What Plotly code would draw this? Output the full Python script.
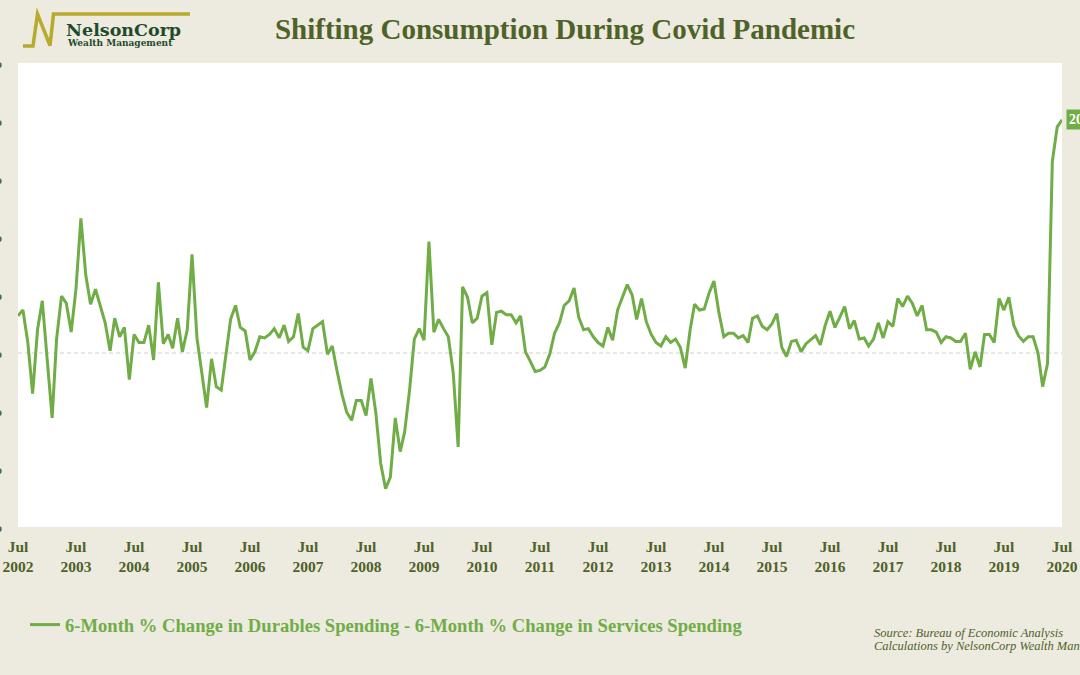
import pandas as pd
import plotly.graph_objects as go

# ---------------- data ----------------
start_month = "2002-07-01"
spread_values = [
    3.2, 3.7, 0.9, -3.5, 2.0, 4.5, -0.6, -5.6, 1.2, 4.9,
    4.3, 1.8, 5.5, 11.6, 6.7, 4.2, 5.5, 4.1, 2.6, 0.2,
    3.0, 1.4, 2.2, -2.3, 1.6, 0.9, 0.9, 2.4, -0.6, 6.1,
    0.8, 1.6, 0.4, 3.0, 0.1, 2.0, 8.5, 1.3, -1.7, -4.7,
    -0.5, -2.9, -3.2, -0.2, 2.9, 4.1, 2.2, 1.9, -0.6, 0.1,
    1.4, 1.3, 1.6, 2.1, 1.3, 2.4, 1.0, 1.4, 3.4, 0.5,
    0.2, 2.1, 2.4, 2.7, -0.1, 0.6, -1.6, -3.6, -5.1, -5.8,
    -4.1, -4.1, -5.4, -2.2, -5.2, -9.5, -11.7, -10.7, -5.6, -8.5,
    -6.8, -3.2, 1.2, 2.1, 1.1, 9.6, 1.8, 2.9, 2.1, 1.4,
    -1.7, -8.1, 5.7, 4.8, 2.6, 3.0, 4.9, 5.2, 0.7, 3.5,
    3.6, 3.3, 3.3, 2.6, 3.2, 0.1, -0.7, -1.6, -1.5, -1.2,
    -0.1, 1.7, 2.6, 4.1, 4.5, 5.6, 3.1, 2.0, 2.1, 1.4,
    0.9, 0.6, 2.2, 1.1, 3.7, 4.8, 5.9, 5.0, 2.9, 4.7,
    2.7, 1.6, 0.9, 0.6, 1.4, 0.9, 1.2, 0.5, -1.3, 2.0,
    4.2, 3.7, 3.8, 5.2, 6.2, 3.5, 1.4, 1.7, 1.7, 1.3,
    1.5, 0.9, 3.0, 3.2, 2.3, 2.0, 2.5, 3.4, 0.5, -0.3,
    1.0, 1.1, 0.1, 0.8, 1.1, 1.5, 0.7, 2.4, 3.6, 2.2,
    3.1, 4.0, 2.1, 2.8, 1.2, 1.3, 0.6, 1.2, 2.6, 1.3,
    2.7, 2.3, 4.7, 4.0, 4.9, 4.3, 3.2, 4.1, 2.0, 2.0,
    1.8, 0.9, 1.4, 1.3, 1.0, 1.0, 1.7, -1.4, 0.1, -1.2,
    1.6, 1.6, 0.9, 4.7, 3.7, 4.8, 2.4, 1.5, 1.0, 1.4,
    1.4, 0.0, -2.9, -0.9, 16.5, 19.5, 20.1,
]
months = pd.date_range(start_month, periods=len(spread_values), freq="MS")

tick_years = list(range(2002, 2021))
tick_dates = [f"{y}-07-01" for y in tick_years]
tick_labels = [f"Jul<br>{y}" for y in tick_years]

y_tick_vals = [-15, -10, -5, 0, 5, 10, 15, 20, 25]
y_tick_text = [f"{v}%" for v in y_tick_vals]

series_name = "6-Month % Change in Durables Spending - 6-Month % Change in Services Spending"
title_text = "Shifting Consumption During Covid Pandemic"

# ---------------- style ----------------
BG = "#EDEBE0"
GREEN = "#70AD47"
OLIVE = "#4F6228"
GOLD = "#B7AA2E"
LOGO_GREEN = "#1F4A2B"
SERIF = "Liberation Serif, Times New Roman, serif"

W, H = 1080, 675
PL, PR, PT, PB = 18, 1062, 63, 527


def px(x):
    return (x - PL) / (PR - PL)


def py(y):
    return (PB - y) / (PB - PT)


fig = go.Figure()
fig.add_trace(go.Scatter(
    x=months, y=spread_values, mode="lines", name=series_name,
    line=dict(color=GREEN, width=3), showlegend=True,
))

fig.update_layout(
    width=W, height=H,
    paper_bgcolor=BG, plot_bgcolor="white",
    margin=dict(l=PL, r=W - PR, t=PT, b=H - PB, autoexpand=False),
    title=dict(text=title_text, x=565 / W, xanchor="center", xref="container",
               y=1 - 29 / H, yanchor="middle", yref="container",
               font=dict(family=SERIF, size=29, color=OLIVE, weight="bold")),
    showlegend=True,
    legend=dict(orientation="h", x=px(25), xanchor="left", y=py(625), yanchor="middle",
                bgcolor="rgba(0,0,0,0)",
                font=dict(family=SERIF, size=18.6, color=GREEN, weight="bold")),
    xaxis=dict(
        type="date", range=[months[0], months[-1]],
        tickvals=tick_dates, ticktext=tick_labels,
        showgrid=False, zeroline=False, showline=False, ticks="",
        automargin=False, ticklabelstandoff=8,
        tickfont=dict(family=SERIF, size=15.5, color=OLIVE, weight="bold"),
    ),
    yaxis=dict(
        range=[-15, 25], tickvals=y_tick_vals, ticktext=y_tick_text,
        showgrid=False, zeroline=False, showline=False, ticks="",
        automargin=False, ticklabelstandoff=14,
        tickfont=dict(family=SERIF, size=15.5, color=OLIVE, weight="bold"),
    ),
)

# dashed zero line
fig.add_shape(type="line", xref="paper", yref="y", x0=0, x1=1, y0=0, y1=0,
              line=dict(color="#CFCFCF", width=1, dash="4px,3px"), layer="below")

# end value label
fig.add_annotation(
    x=months[-1], y=spread_values[-1], xref="x", yref="y",
    text=f"<b>{spread_values[-1]:.1f}%</b>", showarrow=False,
    xanchor="left", yanchor="middle", xshift=4,
    bgcolor=GREEN, borderpad=2,
    font=dict(family=SERIF, size=14, color="white"),
)

# source text
fig.add_annotation(x=px(872), y=py(633), xref="paper", yref="paper",
                   text="Source: Bureau of Economic Analysis", showarrow=False,
                   xanchor="left", yanchor="middle",
                   font=dict(family=SERIF, size=12.5, color=OLIVE, style="italic"))
fig.add_annotation(x=px(872), y=py(646), xref="paper", yref="paper",
                   text="Calculations by NelsonCorp Wealth Management", showarrow=False,
                   xanchor="left", yanchor="middle",
                   font=dict(family=SERIF, size=12.5, color=OLIVE, style="italic"))

# logo
logo_pts = [(23, 46), (33, 46), (37.5, 14), (50, 45.5), (53.5, 14), (190, 14)]
path = "M " + " L ".join(f"{px(x):.5f},{py(y):.5f}" for x, y in logo_pts)
fig.add_shape(type="path", path=path, xref="paper", yref="paper",
              line=dict(color=GOLD, width=3.5))
fig.add_annotation(x=px(64), y=py(30), xref="paper", yref="paper",
                   text="NelsonCorp", showarrow=False, xanchor="left", yanchor="middle",
                   font=dict(family="DejaVu Serif", size=17.5, color=LOGO_GREEN, weight="bold"))
fig.add_annotation(x=px(65), y=py(43), xref="paper", yref="paper",
                   text="Wealth Management", showarrow=False, xanchor="left", yanchor="middle",
                   font=dict(family="DejaVu Serif", size=9, color=LOGO_GREEN, weight="bold"))

fig.write_html("out.html")
